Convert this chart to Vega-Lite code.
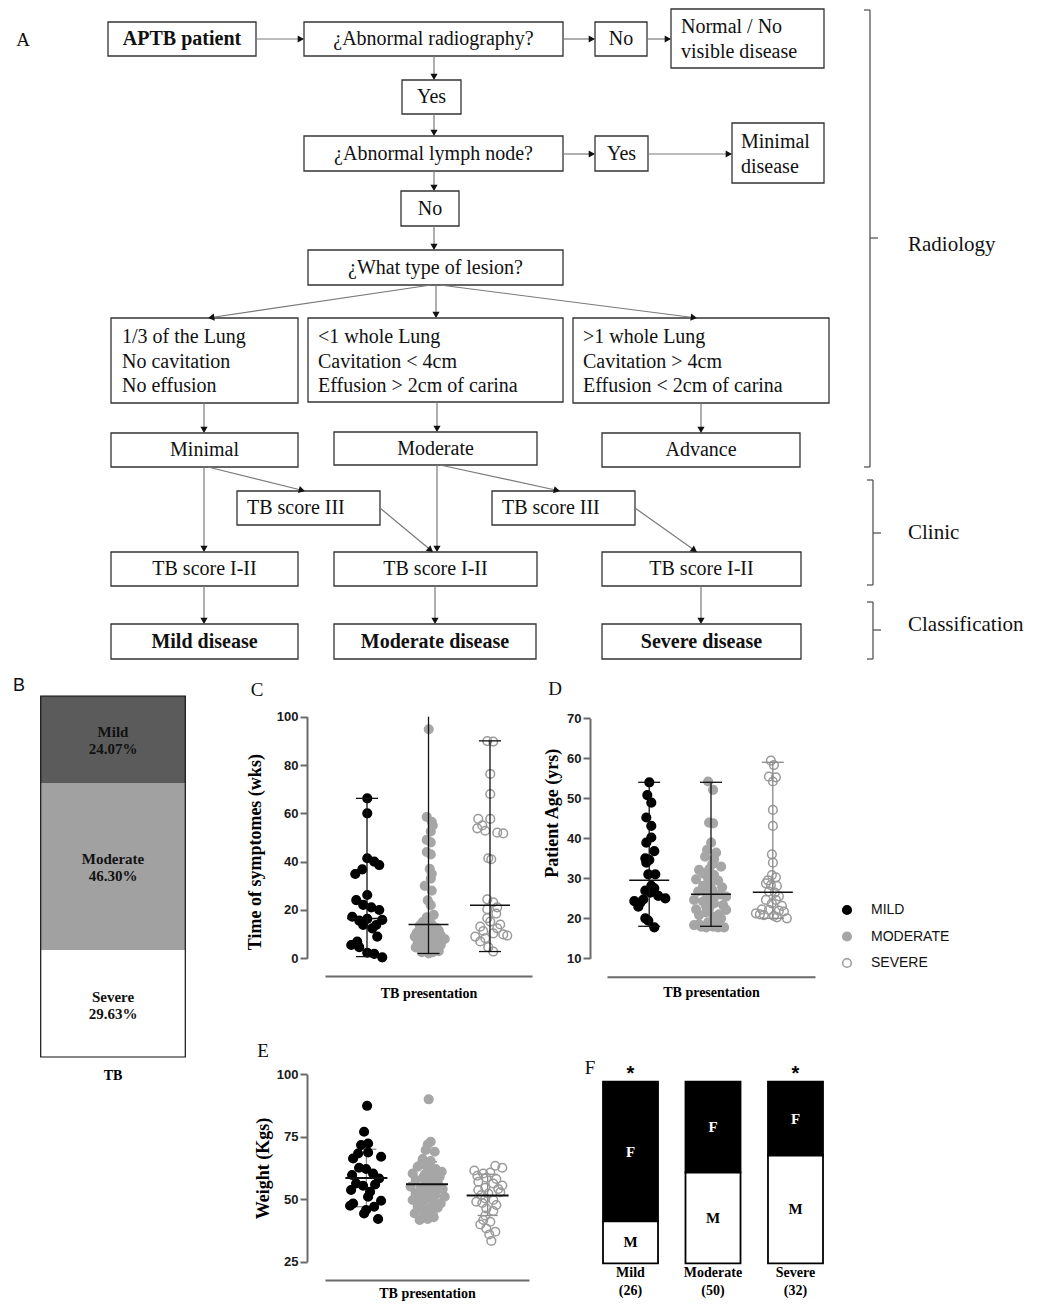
{
"$schema":"https://vega.github.io/schema/vega-lite/v6.json",
"width":1051,"height":1305,"autosize":{"type":"none"},"padding":0,"background":"#ffffff",
"config":{"view":{"stroke":null},"axis":{"grid":false},"font":"Liberation Serif"},
"datasets":{
"boxes":[{"x0":108,"y0":22,"x1":256,"y1":56},{"x0":304,"y0":22,"x1":563,"y1":56},{"x0":595,"y0":22,"x1":647,"y1":56},{"x0":671,"y0":9,"x1":824,"y1":68},{"x0":402,"y0":80,"x1":461,"y1":114},{"x0":304,"y0":136,"x1":563,"y1":171},{"x0":595,"y0":136,"x1":648,"y1":171},{"x0":732,"y0":123,"x1":824,"y1":183},{"x0":401,"y0":191,"x1":459,"y1":226},{"x0":308,"y0":250,"x1":563,"y1":285},{"x0":111,"y0":318,"x1":298,"y1":403},{"x0":308,"y0":318,"x1":563,"y1":402},{"x0":573,"y0":318,"x1":829,"y1":403},{"x0":111,"y0":433,"x1":298,"y1":467},{"x0":334,"y0":432,"x1":537,"y1":465},{"x0":602,"y0":433,"x1":800,"y1":467},{"x0":237,"y0":491,"x1":380,"y1":525},{"x0":492,"y0":491,"x1":635,"y1":525},{"x0":111,"y0":552,"x1":298,"y1":586},{"x0":334,"y0":552,"x1":537,"y1":586},{"x0":602,"y0":552,"x1":801,"y1":586},{"x0":111,"y0":624,"x1":298,"y1":659},{"x0":334,"y0":624,"x1":536,"y1":659},{"x0":602,"y0":624,"x1":801,"y1":659}],
"arrows":[{"x0":256,"y0":39,"x1":304,"y1":39},{"x0":563,"y0":39,"x1":595,"y1":39},{"x0":647,"y0":39,"x1":671,"y1":39},{"x0":434,"y0":56,"x1":434,"y1":80},{"x0":434,"y0":114,"x1":434,"y1":136},{"x0":563,"y0":154,"x1":595,"y1":154},{"x0":648,"y0":154,"x1":732,"y1":154},{"x0":434,"y0":171,"x1":434,"y1":191},{"x0":434,"y0":226,"x1":434,"y1":250},{"x0":431,"y0":285,"x1":208,"y1":318},{"x0":436,"y0":285,"x1":436,"y1":318},{"x0":440,"y0":285,"x1":697,"y1":318},{"x0":204,"y0":403,"x1":204,"y1":433},{"x0":437,"y0":402,"x1":437,"y1":432},{"x0":701,"y0":403,"x1":701,"y1":433},{"x0":204,"y0":467,"x1":204,"y1":552},{"x0":208,"y0":467,"x1":305,"y1":491},{"x0":380,"y0":508,"x1":433,"y1":552},{"x0":437,"y0":465,"x1":437,"y1":552},{"x0":440,"y0":465,"x1":560,"y1":491},{"x0":635,"y0":508,"x1":697,"y1":552},{"x0":204,"y0":586,"x1":204,"y1":624},{"x0":435,"y0":586,"x1":435,"y1":624},{"x0":701,"y0":586,"x1":701,"y1":624}],
"brackets":[{"x0":864,"y0":10,"x1":870,"y1":10},{"x0":870,"y0":10,"x1":870,"y1":467},{"x0":864,"y0":467,"x1":870,"y1":467},{"x0":870,"y0":238,"x1":878,"y1":238},{"x0":867,"y0":480,"x1":873,"y1":480},{"x0":873,"y0":480,"x1":873,"y1":585},{"x0":867,"y0":585,"x1":873,"y1":585},{"x0":873,"y0":533,"x1":881,"y1":533},{"x0":867,"y0":602,"x1":873,"y1":602},{"x0":873,"y0":602,"x1":873,"y1":659},{"x0":867,"y0":659,"x1":873,"y1":659},{"x0":873,"y0":630,"x1":881,"y1":630}],
"texts":[
{"t":"APTB patient","x":182,"y":39,"k":"b"},
{"t":"¿Abnormal radiography?","x":433.5,"y":39,"k":"c"},
{"t":"No","x":621,"y":39,"k":"c"},
{"t":"Normal / No\nvisible disease","x":681,"y":27,"k":"l"},
{"t":"Yes","x":431.5,"y":97,"k":"c"},
{"t":"¿Abnormal lymph node?","x":433.5,"y":154,"k":"c"},
{"t":"Yes","x":621.5,"y":154,"k":"c"},
{"t":"Minimal\ndisease","x":741,"y":142,"k":"l"},
{"t":"No","x":430,"y":209,"k":"c"},
{"t":"¿What type of lesion?","x":435.5,"y":268,"k":"c"},
{"t":"1/3 of the Lung\nNo cavitation\nNo effusion","x":122,"y":337,"k":"l"},
{"t":"<1 whole Lung\nCavitation < 4cm\nEffusion > 2cm of carina","x":318,"y":337,"k":"l"},
{"t":">1 whole Lung\nCavitation > 4cm\nEffusion < 2cm of carina","x":583,"y":337,"k":"l"},
{"t":"Minimal","x":204.5,"y":450,"k":"c"},
{"t":"Moderate","x":435.5,"y":449,"k":"c"},
{"t":"Advance","x":701,"y":450,"k":"c"},
{"t":"TB score III","x":247,"y":508,"k":"l"},
{"t":"TB score III","x":502,"y":508,"k":"l"},
{"t":"TB score I-II","x":204.5,"y":569,"k":"c"},
{"t":"TB score I-II","x":435.5,"y":569,"k":"c"},
{"t":"TB score I-II","x":701.5,"y":569,"k":"c"},
{"t":"Mild disease","x":204.5,"y":642,"k":"b"},
{"t":"Moderate disease","x":435,"y":642,"k":"b"},
{"t":"Severe disease","x":701.5,"y":642,"k":"b"},
{"t":"Radiology","x":908,"y":245,"k":"r"},
{"t":"Clinic","x":908,"y":533,"k":"r"},
{"t":"Classification","x":908,"y":625,"k":"r"},
{"t":"A","x":23,"y":40,"k":"p"},
{"t":"C","x":257,"y":690,"k":"p"},
{"t":"D","x":555,"y":689,"k":"p"},
{"t":"E","x":263,"y":1051,"k":"p"},
{"t":"F","x":590,"y":1068,"k":"p"},
{"t":"B","x":19,"y":686,"k":"s"}],
"shares":[{"bar":"TB","cat":"Mild","pct":24.07},{"bar":"TB","cat":"Moderate","pct":46.30},{"bar":"TB","cat":"Severe","pct":29.63}],
"symptoms":[
{"g":"MILD","v":66.2,"j":0},{"g":"MILD","v":60,"j":0},{"g":"MILD","v":41.4,"j":0},{"g":"MILD","v":40,"j":7},{"g":"MILD","v":38.6,"j":12},{"g":"MILD","v":36.8,"j":-5},{"g":"MILD","v":34.9,"j":-12},{"g":"MILD","v":26.2,"j":0},{"g":"MILD","v":24.1,"j":-11},{"g":"MILD","v":22.1,"j":-4},{"g":"MILD","v":21.1,"j":4},{"g":"MILD","v":20,"j":12},{"g":"MILD","v":17.2,"j":-15},{"g":"MILD","v":15.6,"j":-8},{"g":"MILD","v":16.3,"j":0},{"g":"MILD","v":15.9,"j":15},{"g":"MILD","v":13.8,"j":-4},{"g":"MILD","v":12.4,"j":5},{"g":"MILD","v":13.8,"j":9},{"g":"MILD","v":9,"j":10},{"g":"MILD","v":6.9,"j":-10},{"g":"MILD","v":5.5,"j":-16},{"g":"MILD","v":4.6,"j":-8},{"g":"MILD","v":2.3,"j":0},{"g":"MILD","v":1.8,"j":7},{"g":"MILD","v":0.4,"j":15},
{"g":"MODERATE","v":94.8,"j":0},{"g":"MODERATE","v":58.5,"j":-2},{"g":"MODERATE","v":56.5,"j":3},{"g":"MODERATE","v":55,"j":4},{"g":"MODERATE","v":52.5,"j":2},{"g":"MODERATE","v":49,"j":-2},{"g":"MODERATE","v":48,"j":2},{"g":"MODERATE","v":44,"j":-2},{"g":"MODERATE","v":43,"j":2},{"g":"MODERATE","v":37,"j":1},{"g":"MODERATE","v":35,"j":3},{"g":"MODERATE","v":33,"j":2},{"g":"MODERATE","v":30,"j":-4},{"g":"MODERATE","v":28,"j":3},{"g":"MODERATE","v":24,"j":-1},{"g":"MODERATE","v":22,"j":2},{"g":"MODERATE","v":18,"j":5},{"g":"MODERATE","v":17,"j":-2},{"g":"MODERATE","v":16,"j":1},{"g":"MODERATE","v":15,"j":-6},{"g":"MODERATE","v":14,"j":3},{"g":"MODERATE","v":13.5,"j":-9},{"g":"MODERATE","v":12.5,"j":8},{"g":"MODERATE","v":12,"j":-3},{"g":"MODERATE","v":11.5,"j":10},{"g":"MODERATE","v":11,"j":1},{"g":"MODERATE","v":10.5,"j":-12},{"g":"MODERATE","v":10,"j":-5},{"g":"MODERATE","v":10,"j":6},{"g":"MODERATE","v":9.5,"j":12},{"g":"MODERATE","v":9,"j":-14},{"g":"MODERATE","v":9,"j":2},{"g":"MODERATE","v":8.5,"j":-8},{"g":"MODERATE","v":8,"j":16},{"g":"MODERATE","v":8,"j":0},{"g":"MODERATE","v":7.5,"j":-4},{"g":"MODERATE","v":7,"j":9},{"g":"MODERATE","v":6.5,"j":-11},{"g":"MODERATE","v":6,"j":5},{"g":"MODERATE","v":6,"j":-1},{"g":"MODERATE","v":5.5,"j":12},{"g":"MODERATE","v":5,"j":-6},{"g":"MODERATE","v":5,"j":3},{"g":"MODERATE","v":4.5,"j":-13},{"g":"MODERATE","v":4,"j":7},{"g":"MODERATE","v":3.5,"j":-2},{"g":"MODERATE","v":3,"j":10},{"g":"MODERATE","v":2.5,"j":-7},{"g":"MODERATE","v":2.5,"j":4},{"g":"MODERATE","v":2,"j":0},
{"g":"SEVERE","v":89.9,"j":-3},{"g":"SEVERE","v":89.7,"j":3},{"g":"SEVERE","v":76.3,"j":0},{"g":"SEVERE","v":68,"j":0},{"g":"SEVERE","v":57.7,"j":-12},{"g":"SEVERE","v":57.7,"j":0},{"g":"SEVERE","v":55,"j":-8},{"g":"SEVERE","v":53.8,"j":-13},{"g":"SEVERE","v":52.8,"j":-5},{"g":"SEVERE","v":52,"j":7},{"g":"SEVERE","v":51.7,"j":13},{"g":"SEVERE","v":41.4,"j":-2},{"g":"SEVERE","v":41,"j":1},{"g":"SEVERE","v":24.4,"j":-3},{"g":"SEVERE","v":23.2,"j":3},{"g":"SEVERE","v":21.1,"j":7},{"g":"SEVERE","v":20.3,"j":-3},{"g":"SEVERE","v":18.5,"j":6},{"g":"SEVERE","v":16.6,"j":-3},{"g":"SEVERE","v":15.2,"j":0},{"g":"SEVERE","v":14,"j":10},{"g":"SEVERE","v":13.1,"j":-10},{"g":"SEVERE","v":12.4,"j":7},{"g":"SEVERE","v":11.3,"j":-7},{"g":"SEVERE","v":10.3,"j":3},{"g":"SEVERE","v":9.9,"j":13},{"g":"SEVERE","v":9.4,"j":17},{"g":"SEVERE","v":9,"j":-15},{"g":"SEVERE","v":8.3,"j":-5},{"g":"SEVERE","v":7,"j":-10},{"g":"SEVERE","v":4.6,"j":-2},{"g":"SEVERE","v":2.8,"j":3}],
"symptomsSummary":[{"g":"MILD","lo":0.7,"hi":66.2,"med":16.5},{"g":"MODERATE","lo":2,"hi":100,"med":14},{"g":"SEVERE","lo":2.8,"hi":90,"med":22}],
"symptomsCaps":[{"g":"MILD","v":0.7},{"g":"MILD","v":66.2},{"g":"MODERATE","v":2},{"g":"SEVERE","v":2.8},{"g":"SEVERE","v":90}],
"age":[
{"g":"MILD","v":54,"j":0},{"g":"MILD","v":50.8,"j":-2},{"g":"MILD","v":48.9,"j":2},{"g":"MILD","v":45.2,"j":-3},{"g":"MILD","v":43.1,"j":2},{"g":"MILD","v":40.2,"j":2},{"g":"MILD","v":38.9,"j":-3},{"g":"MILD","v":36.8,"j":5},{"g":"MILD","v":35,"j":-4},{"g":"MILD","v":34.6,"j":0},{"g":"MILD","v":33.9,"j":-3},{"g":"MILD","v":31,"j":-1},{"g":"MILD","v":31,"j":6},{"g":"MILD","v":28.1,"j":2},{"g":"MILD","v":27.5,"j":5},{"g":"MILD","v":26.9,"j":-4},{"g":"MILD","v":26.4,"j":1},{"g":"MILD","v":25.6,"j":9},{"g":"MILD","v":25,"j":16},{"g":"MILD","v":24.7,"j":-6},{"g":"MILD","v":24.3,"j":-15},{"g":"MILD","v":23.9,"j":-9},{"g":"MILD","v":22.9,"j":-11},{"g":"MILD","v":20,"j":-4},{"g":"MILD","v":19.4,"j":-1},{"g":"MILD","v":17.75,"j":5},
{"g":"MODERATE","v":54.2,"j":-3},{"g":"MODERATE","v":52.1,"j":2},{"g":"MODERATE","v":43.9,"j":-2},{"g":"MODERATE","v":43.75,"j":2},{"g":"MODERATE","v":38.9,"j":0},{"g":"MODERATE","v":37.1,"j":-4},{"g":"MODERATE","v":36.4,"j":5},{"g":"MODERATE","v":35.4,"j":-6},{"g":"MODERATE","v":34.75,"j":3},{"g":"MODERATE","v":33.5,"j":1},{"g":"MODERATE","v":32.9,"j":10},{"g":"MODERATE","v":32.25,"j":-2},{"g":"MODERATE","v":32.1,"j":-12},{"g":"MODERATE","v":31.1,"j":-7},{"g":"MODERATE","v":30.8,"j":3},{"g":"MODERATE","v":30,"j":-3},{"g":"MODERATE","v":29.75,"j":-15},{"g":"MODERATE","v":29.4,"j":7},{"g":"MODERATE","v":28.5,"j":-1},{"g":"MODERATE","v":28.1,"j":-8},{"g":"MODERATE","v":27.75,"j":11},{"g":"MODERATE","v":27.25,"j":1},{"g":"MODERATE","v":26.7,"j":-13},{"g":"MODERATE","v":26.25,"j":-5},{"g":"MODERATE","v":26,"j":9},{"g":"MODERATE","v":25.8,"j":5},{"g":"MODERATE","v":25.4,"j":15},{"g":"MODERATE","v":25,"j":-1},{"g":"MODERATE","v":24.6,"j":-17},{"g":"MODERATE","v":24.2,"j":-8},{"g":"MODERATE","v":23.75,"j":3},{"g":"MODERATE","v":23.3,"j":12},{"g":"MODERATE","v":23,"j":-5},{"g":"MODERATE","v":22.5,"j":-2},{"g":"MODERATE","v":22.25,"j":-15},{"g":"MODERATE","v":22.1,"j":15},{"g":"MODERATE","v":21.5,"j":-5},{"g":"MODERATE","v":21,"j":8},{"g":"MODERATE","v":20.8,"j":-12},{"g":"MODERATE","v":20.4,"j":3},{"g":"MODERATE","v":20,"j":10},{"g":"MODERATE","v":19.5,"j":6},{"g":"MODERATE","v":19,"j":-3},{"g":"MODERATE","v":18.5,"j":-12},{"g":"MODERATE","v":18.3,"j":-17},{"g":"MODERATE","v":17.9,"j":-10},{"g":"MODERATE","v":17.9,"j":2},{"g":"MODERATE","v":17.75,"j":-5},{"g":"MODERATE","v":17.75,"j":7},{"g":"MODERATE","v":17.75,"j":13},
{"g":"SEVERE","v":59.4,"j":-2},{"g":"SEVERE","v":58.3,"j":1},{"g":"SEVERE","v":55.4,"j":-4},{"g":"SEVERE","v":55.25,"j":3},{"g":"SEVERE","v":54.2,"j":0},{"g":"SEVERE","v":47.1,"j":0},{"g":"SEVERE","v":43.1,"j":0},{"g":"SEVERE","v":36,"j":-1},{"g":"SEVERE","v":33.9,"j":0},{"g":"SEVERE","v":30.8,"j":-1},{"g":"SEVERE","v":30.25,"j":3},{"g":"SEVERE","v":29.5,"j":-5},{"g":"SEVERE","v":28.75,"j":-7},{"g":"SEVERE","v":28.3,"j":-2},{"g":"SEVERE","v":28.1,"j":4},{"g":"SEVERE","v":26.7,"j":-4},{"g":"SEVERE","v":26.4,"j":2},{"g":"SEVERE","v":25.5,"j":6},{"g":"SEVERE","v":24.6,"j":-7},{"g":"SEVERE","v":24.6,"j":3},{"g":"SEVERE","v":23.75,"j":-1},{"g":"SEVERE","v":23.1,"j":9},{"g":"SEVERE","v":22.25,"j":-11},{"g":"SEVERE","v":22.1,"j":-4},{"g":"SEVERE","v":21.9,"j":6},{"g":"SEVERE","v":21.7,"j":11},{"g":"SEVERE","v":21.25,"j":-17},{"g":"SEVERE","v":21,"j":-13},{"g":"SEVERE","v":20.8,"j":-9},{"g":"SEVERE","v":20.6,"j":1},{"g":"SEVERE","v":20.25,"j":4},{"g":"SEVERE","v":20,"j":14}],
"ageSummary":[{"g":"MILD","lo":18,"hi":54,"med":29.5},{"g":"MODERATE","lo":18,"hi":54,"med":26},{"g":"SEVERE","lo":20,"hi":59,"med":26.5}],
"ageCaps":[{"g":"MILD","v":18},{"g":"MILD","v":54},{"g":"MODERATE","v":18},{"g":"MODERATE","v":54},{"g":"SEVERE","v":20},{"g":"SEVERE","v":59}],
"weight":[
{"g":"MILD","v":87.4,"j":0},{"g":"MILD","v":77,"j":-3},{"g":"MILD","v":72.3,"j":1},{"g":"MILD","v":71.7,"j":-6},{"g":"MILD","v":68.7,"j":1},{"g":"MILD","v":68.3,"j":-9},{"g":"MILD","v":67,"j":14},{"g":"MILD","v":66.3,"j":-14},{"g":"MILD","v":62.6,"j":-8},{"g":"MILD","v":62.1,"j":-1},{"g":"MILD","v":60.3,"j":6},{"g":"MILD","v":59.7,"j":-15},{"g":"MILD","v":58.3,"j":12},{"g":"MILD","v":56.3,"j":-11},{"g":"MILD","v":55.9,"j":8},{"g":"MILD","v":55.4,"j":-4},{"g":"MILD","v":53.7,"j":-16},{"g":"MILD","v":53,"j":3},{"g":"MILD","v":51,"j":1},{"g":"MILD","v":49.4,"j":14},{"g":"MILD","v":48.3,"j":-14},{"g":"MILD","v":47.4,"j":-17},{"g":"MILD","v":47,"j":7},{"g":"MILD","v":45.7,"j":-1},{"g":"MILD","v":44.3,"j":-3},{"g":"MILD","v":42.1,"j":11},
{"g":"MODERATE","v":90,"j":1},{"g":"MODERATE","v":73,"j":3},{"g":"MODERATE","v":71.9,"j":0},{"g":"MODERATE","v":69.7,"j":-2},{"g":"MODERATE","v":69,"j":7},{"g":"MODERATE","v":66.1,"j":-5},{"g":"MODERATE","v":65.3,"j":3},{"g":"MODERATE","v":64,"j":-6},{"g":"MODERATE","v":63,"j":-10},{"g":"MODERATE","v":62.6,"j":0},{"g":"MODERATE","v":62.1,"j":8},{"g":"MODERATE","v":61,"j":14},{"g":"MODERATE","v":60.3,"j":-15},{"g":"MODERATE","v":59.9,"j":-3},{"g":"MODERATE","v":59.7,"j":5},{"g":"MODERATE","v":59,"j":12},{"g":"MODERATE","v":58.5,"j":-5},{"g":"MODERATE","v":58,"j":5},{"g":"MODERATE","v":57.7,"j":-12},{"g":"MODERATE","v":57,"j":0},{"g":"MODERATE","v":56.7,"j":10},{"g":"MODERATE","v":56,"j":-2},{"g":"MODERATE","v":55.5,"j":10},{"g":"MODERATE","v":55,"j":-17},{"g":"MODERATE","v":54.6,"j":-7},{"g":"MODERATE","v":54.3,"j":3},{"g":"MODERATE","v":54.1,"j":15},{"g":"MODERATE","v":53.5,"j":-3},{"g":"MODERATE","v":53,"j":6},{"g":"MODERATE","v":52.5,"j":-8},{"g":"MODERATE","v":52.3,"j":-12},{"g":"MODERATE","v":51.9,"j":-2},{"g":"MODERATE","v":51.7,"j":8},{"g":"MODERATE","v":51,"j":17},{"g":"MODERATE","v":50.5,"j":2},{"g":"MODERATE","v":50,"j":-10},{"g":"MODERATE","v":49.7,"j":-15},{"g":"MODERATE","v":49.3,"j":5},{"g":"MODERATE","v":49,"j":-5},{"g":"MODERATE","v":48.3,"j":13},{"g":"MODERATE","v":47,"j":-10},{"g":"MODERATE","v":46.6,"j":10},{"g":"MODERATE","v":46.3,"j":2},{"g":"MODERATE","v":45.5,"j":-5},{"g":"MODERATE","v":44.3,"j":-13},{"g":"MODERATE","v":44,"j":5},{"g":"MODERATE","v":43.7,"j":-3},{"g":"MODERATE","v":42.8,"j":6},{"g":"MODERATE","v":42.1,"j":0},{"g":"MODERATE","v":41.7,"j":-8},
{"g":"SEVERE","v":63.4,"j":7},{"g":"SEVERE","v":62.6,"j":14},{"g":"SEVERE","v":61.5,"j":-14},{"g":"SEVERE","v":60.7,"j":2},{"g":"SEVERE","v":60.3,"j":-5},{"g":"SEVERE","v":59.4,"j":-11},{"g":"SEVERE","v":58.6,"j":-2},{"g":"SEVERE","v":58.1,"j":8},{"g":"SEVERE","v":57,"j":-10},{"g":"SEVERE","v":56.3,"j":5},{"g":"SEVERE","v":55.5,"j":14},{"g":"SEVERE","v":54.6,"j":-3},{"g":"SEVERE","v":54.1,"j":10},{"g":"SEVERE","v":53.7,"j":-10},{"g":"SEVERE","v":52.8,"j":12},{"g":"SEVERE","v":52.3,"j":0},{"g":"SEVERE","v":51.7,"j":-7},{"g":"SEVERE","v":50.3,"j":-3},{"g":"SEVERE","v":49.7,"j":5},{"g":"SEVERE","v":49,"j":-12},{"g":"SEVERE","v":48.5,"j":-6},{"g":"SEVERE","v":47.7,"j":8},{"g":"SEVERE","v":46.3,"j":-2},{"g":"SEVERE","v":45.3,"j":5},{"g":"SEVERE","v":43.5,"j":-3},{"g":"SEVERE","v":41.7,"j":-5},{"g":"SEVERE","v":41,"j":2},{"g":"SEVERE","v":39.9,"j":-8},{"g":"SEVERE","v":38.3,"j":-2},{"g":"SEVERE","v":37,"j":7},{"g":"SEVERE","v":35.9,"j":1},{"g":"SEVERE","v":33.3,"j":3}],
"weightSummary":[{"g":"MILD","lo":47,"hi":70,"med":58.5},{"g":"MODERATE","lo":47,"hi":65,"med":56},{"g":"SEVERE","lo":43.5,"hi":60,"med":51.5}],
"weightCaps":[{"g":"MILD","v":47},{"g":"MILD","v":70},{"g":"MODERATE","v":47},{"g":"MODERATE","v":65},{"g":"SEVERE","v":43.5},{"g":"SEVERE","v":60}],
"sex":[{"g":"Mild (26)","s":"F","n":20},{"g":"Mild (26)","s":"M","n":6},{"g":"Moderate (50)","s":"F","n":25},{"g":"Moderate (50)","s":"M","n":25},{"g":"Severe (32)","s":"F","n":13},{"g":"Severe (32)","s":"M","n":19}],
"stars":[{"g":"Mild (26)","t":"*"},{"g":"Severe (32)","t":"*"}]
},
"layer":[
{"layer":[
 {"data":{"name":"boxes"},"mark":{"type":"rect","fill":"#ffffff","stroke":"#333333","strokeWidth":1.3},
  "encoding":{"x":{"field":"x0","type":"quantitative","scale":{"domain":[0,1051],"range":[0,1051],"nice":false,"zero":false},"axis":null},"x2":{"field":"x1"},"y":{"field":"y0","type":"quantitative","scale":{"domain":[0,1305],"range":[0,1305],"nice":false,"zero":false},"axis":null},"y2":{"field":"y1"}}},
 {"data":{"name":"arrows"},"mark":{"type":"rule","stroke":"#7a7a7a","strokeWidth":1.2},
  "encoding":{"x":{"field":"x0","type":"quantitative"},"x2":{"field":"x1"},"y":{"field":"y0","type":"quantitative"},"y2":{"field":"y1"}}},
 {"data":{"name":"arrows"},"transform":[{"calculate":"sqrt(pow(datum.x1-datum.x0,2)+pow(datum.y1-datum.y0,2))","as":"len"},{"calculate":"datum.x1-3.2*(datum.x1-datum.x0)/datum.len","as":"hx"},{"calculate":"datum.y1-3.2*(datum.y1-datum.y0)/datum.len","as":"hy"},{"calculate":"atan2(datum.x1-datum.x0,datum.y0-datum.y1)*180/PI","as":"ang"}],
  "mark":{"type":"point","shape":"triangle-up","filled":true,"fill":"#111111","strokeWidth":0,"size":52,"opacity":1},
  "encoding":{"x":{"field":"hx","type":"quantitative"},"y":{"field":"hy","type":"quantitative"},"angle":{"field":"ang","type":"quantitative","scale":null}}},
 {"data":{"name":"brackets"},"mark":{"type":"rule","stroke":"#555555","strokeWidth":1.3},
  "encoding":{"x":{"field":"x0","type":"quantitative"},"x2":{"field":"x1"},"y":{"field":"y0","type":"quantitative"},"y2":{"field":"y1"}}},
 {"data":{"name":"texts"},"transform":[{"filter":"datum.k==='c'"}],"mark":{"type":"text","font":"Liberation Serif","fontSize":20,"align":"center","baseline":"middle","fill":"#111111"},
  "encoding":{"x":{"field":"x","type":"quantitative"},"y":{"field":"y","type":"quantitative"},"text":{"field":"t"}}},
 {"data":{"name":"texts"},"transform":[{"filter":"datum.k==='l'"}],"mark":{"type":"text","font":"Liberation Serif","fontSize":20,"align":"left","baseline":"middle","fill":"#111111","lineBreak":"\n","lineHeight":24.5},
  "encoding":{"x":{"field":"x","type":"quantitative"},"y":{"field":"y","type":"quantitative"},"text":{"field":"t"}}},
 {"data":{"name":"texts"},"transform":[{"filter":"datum.k==='r'"}],"mark":{"type":"text","font":"Liberation Serif","fontSize":21,"align":"left","baseline":"middle","fill":"#111111"},
  "encoding":{"x":{"field":"x","type":"quantitative"},"y":{"field":"y","type":"quantitative"},"text":{"field":"t"}}},
 {"data":{"name":"texts"},"transform":[{"filter":"datum.k==='b'"}],"mark":{"type":"text","font":"Liberation Serif","fontSize":20,"fontWeight":"bold","align":"center","baseline":"middle","fill":"#111111"},
  "encoding":{"x":{"field":"x","type":"quantitative"},"y":{"field":"y","type":"quantitative"},"text":{"field":"t"}}},
 {"data":{"name":"texts"},"transform":[{"filter":"datum.k==='p'"}],"mark":{"type":"text","font":"Liberation Serif","fontSize":19,"align":"center","baseline":"middle","fill":"#111111"},
  "encoding":{"x":{"field":"x","type":"quantitative"},"y":{"field":"y","type":"quantitative"},"text":{"field":"t"}}},
 {"data":{"name":"texts"},"transform":[{"filter":"datum.k==='s'"}],"mark":{"type":"text","font":"Liberation Sans","fontSize":18,"align":"center","baseline":"middle","fill":"#111111"},
  "encoding":{"x":{"field":"x","type":"quantitative"},"y":{"field":"y","type":"quantitative"},"text":{"field":"t"}}}
]},
{"layer":[
 {"data":{"name":"shares"},"transform":[{"stack":"pct","groupby":["bar"],"sort":[{"field":"cat","order":"descending"}],"as":["lo","hi"]}],
  "mark":{"type":"bar","strokeWidth":0},
  "encoding":{"x":{"field":"bar","type":"nominal","scale":{"domain":["TB"],"range":[40.7,185.3],"paddingInner":0,"paddingOuter":0},"axis":{"orient":"bottom","offset":-248,"domain":false,"ticks":false,"labelAngle":0,"labelFont":"Liberation Serif","labelFontWeight":"bold","labelFontSize":14,"labelColor":"#000000","labelPadding":11,"title":null}},
   "y":{"field":"lo","type":"quantitative","scale":{"domain":[0,100],"range":[1057,696],"nice":false,"zero":false},"axis":null},"y2":{"field":"hi"},
   "fill":{"field":"cat","type":"nominal","scale":{"domain":["Mild","Moderate","Severe"],"range":["#5b5b5b","#a1a1a1","#ffffff"]},"legend":null}}},
 {"data":{"name":"shares"},"mark":{"type":"bar","fill":"#ffffff","fillOpacity":0,"stroke":"#111111","strokeWidth":1.2},
  "encoding":{"x":{"field":"bar","type":"nominal"},"y":{"aggregate":"sum","field":"pct","type":"quantitative"}}},
 {"data":{"name":"shares"},"transform":[{"stack":"pct","groupby":["bar"],"sort":[{"field":"cat","order":"descending"}],"as":["lo","hi"]},{"calculate":"(datum.lo+datum.hi)/2","as":"mid"},{"calculate":"datum.cat+'\\n'+format(datum.pct,'.2f')+'%'","as":"lab"}],
  "mark":{"type":"text","lineBreak":"\n","lineHeight":17,"font":"Liberation Serif","fontWeight":"bold","fontSize":15,"fill":"#111111","baseline":"middle","align":"center","dy":-7},
  "encoding":{"x":{"field":"bar","type":"nominal"},"y":{"field":"mid","type":"quantitative"},"text":{"field":"lab"}}}
]},
{"layer":[
 {"data":{"name":"symptoms"},"mark":{"type":"point","filled":true,"size":75,"strokeWidth":1.5,"opacity":1},
  "encoding":{"x":{"field":"g","type":"nominal","scale":{"domain":["MILD","MODERATE","SEVERE"],"range":[325,532],"paddingInner":0,"paddingOuter":0.183},"axis":{"orient":"bottom","offset":-329,"domain":true,"domainColor":"#6a6a6a","domainWidth":2,"ticks":false,"labels":false,"title":"TB presentation","titleFont":"Liberation Serif","titleFontWeight":"bold","titleFontSize":14,"titleColor":"#000000","titlePadding":10}},
   "xOffset":{"field":"j","type":"quantitative","scale":{"domain":[-31,31],"range":[0,62]}},
   "y":{"field":"v","type":"quantitative","scale":{"domain":[0,100],"range":[958.3,716.7],"nice":false,"zero":false},"axis":{"orient":"left","offset":-307,"values":[0,20,40,60,80,100],"domainColor":"#6a6a6a","domainWidth":2,"tickColor":"#6a6a6a","tickWidth":2,"tickSize":7,"labelFont":"Liberation Sans","labelFontWeight":"bold","labelFontSize":13,"labelColor":"#1a1a1a","labelPadding":2,"title":"Time of symptomes (wks)","titleFont":"Liberation Serif","titleFontWeight":"bold","titleFontSize":18,"titleColor":"#000000","titleAngle":270,"titleBaseline":"middle","titleAlign":"center","titleX":-52,"titleY":851.7}},
   "fill":{"field":"g","type":"nominal","scale":{"domain":["MILD","MODERATE","SEVERE"],"range":["#000000","#a6a6a6","rgba(255,255,255,0)"]},"legend":null},
   "stroke":{"field":"g","type":"nominal","scale":{"domain":["MILD","MODERATE","SEVERE"],"range":["#000000","#a6a6a6","#9a9a9a"]},"legend":null}}},
 {"data":{"name":"symptomsSummary"},"mark":{"type":"rule","stroke":"#111111","strokeWidth":1.3},
  "encoding":{"x":{"field":"g","type":"nominal"},"y":{"field":"lo","type":"quantitative"},"y2":{"field":"hi"}}},
 {"data":{"name":"symptomsCaps"},"mark":{"type":"tick","color":"#111111","size":22,"thickness":1.3,"opacity":1},
  "encoding":{"x":{"field":"g","type":"nominal"},"y":{"field":"v","type":"quantitative"}}},
 {"data":{"name":"symptomsSummary"},"mark":{"type":"tick","color":"#111111","size":40,"thickness":1.5,"opacity":1},
  "encoding":{"x":{"field":"g","type":"nominal"},"y":{"field":"med","type":"quantitative"}}}
]},
{"layer":[
 {"data":{"name":"age"},"mark":{"type":"point","filled":true,"size":75,"strokeWidth":1.5,"opacity":1},
  "encoding":{"x":{"field":"g","type":"nominal","scale":{"domain":["MILD","MODERATE","SEVERE"],"range":[607,815],"paddingInner":0,"paddingOuter":0.183},"axis":{"orient":"bottom","offset":-328.3,"domain":true,"domainColor":"#6a6a6a","domainWidth":2,"ticks":false,"labels":false,"title":"TB presentation","titleFont":"Liberation Serif","titleFontWeight":"bold","titleFontSize":14,"titleColor":"#000000","titlePadding":9}},
   "xOffset":{"field":"j","type":"quantitative","scale":{"domain":[-31,31],"range":[0,62]}},
   "y":{"field":"v","type":"quantitative","scale":{"domain":[10,70],"range":[958.3,718.3],"nice":false,"zero":false},"axis":{"orient":"left","offset":-590,"values":[10,20,30,40,50,60,70],"domainColor":"#6a6a6a","domainWidth":2,"tickColor":"#6a6a6a","tickWidth":2,"tickSize":7,"labelFont":"Liberation Sans","labelFontWeight":"bold","labelFontSize":13,"labelColor":"#1a1a1a","labelPadding":2,"title":"Patient Age (yrs)","titleFont":"Liberation Serif","titleFontWeight":"bold","titleFontSize":18,"titleColor":"#000000","titleAngle":270,"titleBaseline":"middle","titleAlign":"center","titleX":-38,"titleY":812.7}},
   "fill":{"field":"g","type":"nominal","scale":{"domain":["MILD","MODERATE","SEVERE"],"range":["#000000","#a6a6a6","rgba(255,255,255,0)"]},"legend":{"orient":"none","legendX":840,"legendY":903,"title":null,"symbolType":"circle","symbolSize":75,"symbolStrokeWidth":1.5,"labelFont":"Liberation Sans","labelFontSize":14,"labelColor":"#111111","labelOffset":17,"rowPadding":10.5,"padding":0}},
   "stroke":{"field":"g","type":"nominal","scale":{"domain":["MILD","MODERATE","SEVERE"],"range":["#000000","#a6a6a6","#9a9a9a"]},"legend":{"orient":"none","legendX":840,"legendY":903,"title":null,"symbolType":"circle","symbolSize":75,"symbolStrokeWidth":1.5,"labelFont":"Liberation Sans","labelFontSize":14,"labelColor":"#111111","labelOffset":17,"rowPadding":10.5,"padding":0}}}},
 {"data":{"name":"ageSummary"},"mark":{"type":"rule","strokeWidth":1.3},
  "encoding":{"x":{"field":"g","type":"nominal"},"y":{"field":"lo","type":"quantitative"},"y2":{"field":"hi"},"color":{"condition":{"test":"datum.g==='SEVERE'","value":"#8a8a8a"},"value":"#111111"}}},
 {"data":{"name":"ageCaps"},"mark":{"type":"tick","size":22,"thickness":1.3,"opacity":1},
  "encoding":{"x":{"field":"g","type":"nominal"},"y":{"field":"v","type":"quantitative"},"color":{"condition":{"test":"datum.g==='SEVERE'","value":"#8a8a8a"},"value":"#111111"}}},
 {"data":{"name":"ageSummary"},"mark":{"type":"tick","color":"#111111","size":40,"thickness":1.5,"opacity":1},
  "encoding":{"x":{"field":"g","type":"nominal"},"y":{"field":"med","type":"quantitative"}}}
]},
{"layer":[
 {"data":{"name":"weightSummary"},"mark":{"type":"rule","stroke":"#8a8a8a","strokeWidth":1.3},
  "encoding":{"x":{"field":"g","type":"nominal","scale":{"domain":["MILD","MODERATE","SEVERE"],"range":[325,529],"paddingInner":0,"paddingOuter":0.183},"axis":{"orient":"bottom","offset":-25,"domain":true,"domainColor":"#6a6a6a","domainWidth":2,"ticks":false,"labels":false,"title":"TB presentation","titleFont":"Liberation Serif","titleFontWeight":"bold","titleFontSize":14,"titleColor":"#000000","titlePadding":6.5}},
   "y":{"field":"lo","type":"quantitative","scale":{"domain":[25,100],"range":[1261.7,1074.3],"nice":false,"zero":false},"axis":{"orient":"left","offset":-307,"values":[25,50,75,100],"domainColor":"#6a6a6a","domainWidth":2,"tickColor":"#6a6a6a","tickWidth":2,"tickSize":7,"labelFont":"Liberation Sans","labelFontWeight":"bold","labelFontSize":13,"labelColor":"#1a1a1a","labelPadding":2,"title":"Weight (Kgs)","titleFont":"Liberation Serif","titleFontWeight":"bold","titleFontSize":18,"titleColor":"#000000","titleAngle":270,"titleBaseline":"middle","titleAlign":"center","titleX":-44,"titleY":1168}},
   "y2":{"field":"hi"}}},
 {"data":{"name":"weightCaps"},"mark":{"type":"tick","color":"#8a8a8a","size":20,"thickness":1.3,"opacity":1},
  "encoding":{"x":{"field":"g","type":"nominal"},"y":{"field":"v","type":"quantitative"}}},
 {"data":{"name":"weight"},"mark":{"type":"point","filled":true,"size":75,"strokeWidth":1.5,"opacity":1},
  "encoding":{"x":{"field":"g","type":"nominal"},
   "xOffset":{"field":"j","type":"quantitative","scale":{"domain":[-31,31],"range":[0,62]}},
   "y":{"field":"v","type":"quantitative"},
   "fill":{"field":"g","type":"nominal","scale":{"domain":["MILD","MODERATE","SEVERE"],"range":["#000000","#a6a6a6","rgba(255,255,255,0)"]},"legend":null},
   "stroke":{"field":"g","type":"nominal","scale":{"domain":["MILD","MODERATE","SEVERE"],"range":["#000000","#a6a6a6","#9a9a9a"]},"legend":null}}},
 {"data":{"name":"weightSummary"},"mark":{"type":"tick","color":"#111111","size":42,"thickness":1.8,"opacity":1},
  "encoding":{"x":{"field":"g","type":"nominal"},"y":{"field":"med","type":"quantitative"}}}
]},
{"layer":[
 {"data":{"name":"sex"},"transform":[{"stack":"n","groupby":["g"],"sort":[{"field":"s","order":"descending"}],"offset":"normalize","as":["lo","hi"]}],
  "mark":{"type":"bar","stroke":"#000000","strokeWidth":1.8},
  "encoding":{"x":{"field":"g","type":"nominal","scale":{"domain":["Mild (26)","Moderate (50)","Severe (32)"],"range":[603,823],"paddingInner":0.333,"paddingOuter":0},"axis":{"orient":"bottom","offset":-41.7,"domain":false,"ticks":false,"labelAngle":0,"labelExpr":"split(datum.label,' ')","labelFont":"Liberation Serif","labelFontWeight":"bold","labelFontSize":14,"labelLineHeight":18,"labelColor":"#000000","labelPadding":2,"title":null}},
   "y":{"field":"lo","type":"quantitative","scale":{"domain":[0,1],"range":[1263.3,1081.7],"nice":false,"zero":false},"axis":null},"y2":{"field":"hi"},
   "fill":{"field":"s","type":"nominal","scale":{"domain":["F","M"],"range":["#000000","#ffffff"]},"legend":null}}},
 {"data":{"name":"sex"},"transform":[{"stack":"n","groupby":["g"],"sort":[{"field":"s","order":"descending"}],"offset":"normalize","as":["lo","hi"]},{"calculate":"(datum.lo+datum.hi)/2","as":"mid"}],
  "mark":{"type":"text","font":"Liberation Serif","fontWeight":"bold","fontSize":15,"baseline":"middle","align":"center"},
  "encoding":{"x":{"field":"g","type":"nominal"},"y":{"field":"mid","type":"quantitative"},"text":{"field":"s"},"color":{"condition":{"test":"datum.s==='F'","value":"#ffffff"},"value":"#000000"}}},
 {"data":{"name":"stars"},"mark":{"type":"text","font":"Liberation Sans","fontWeight":"bold","fontSize":20,"baseline":"alphabetic","align":"center","dy":-2,"fill":"#000000"},
  "encoding":{"x":{"field":"g","type":"nominal"},"y":{"datum":1,"type":"quantitative"},"text":{"field":"t"}}}
]}
],
"resolve":{"scale":{"x":"independent","y":"independent","fill":"independent","stroke":"independent","color":"independent","xOffset":"independent"}}
}
